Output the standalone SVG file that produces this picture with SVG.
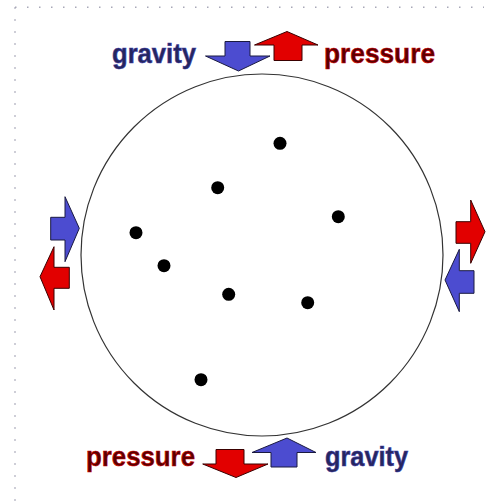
<svg xmlns="http://www.w3.org/2000/svg" width="494" height="501" viewBox="0 0 494 501">
<style>
.blue{fill:#4c4cd0;stroke:#1a1a40;stroke-width:1;stroke-linejoin:miter}
.red{fill:#e20000;stroke:#3a0000;stroke-width:1;stroke-linejoin:miter}
.grav{font-family:"Liberation Sans",Arial,sans-serif;font-weight:bold;font-size:28.5px;fill:#26265e;stroke:#3a3aa8;stroke-width:0.6}
.pres{font-family:"Liberation Sans",Arial,sans-serif;font-weight:bold;font-size:28.5px;fill:#5a0000;stroke:#d00000;stroke-width:0.6}
.dot{fill:#000}
.border{fill:none;stroke:#a8a8b8;stroke-width:1.5;stroke-dasharray:1.5 10.5}
</style>
<rect width="494" height="501" fill="#fff"/>
<path class="border" d="M15,7.3 H484 M15,7.3 V501"/>
<g id="star">
<circle cx="262" cy="255" r="181" fill="none" stroke="#333" stroke-width="1.2"/>
<circle class="dot" cx="280" cy="143.3" r="6.5"/>
<circle class="dot" cx="217.7" cy="187.7" r="6.5"/>
<circle class="dot" cx="338.3" cy="216.7" r="6.5"/>
<circle class="dot" cx="136" cy="232.7" r="6.5"/>
<circle class="dot" cx="164" cy="265.7" r="6.5"/>
<circle class="dot" cx="228.7" cy="294.3" r="6.5"/>
<circle class="dot" cx="307.7" cy="302.7" r="6.5"/>
<circle class="dot" cx="201" cy="379.7" r="6.5"/>
</g>
<g id="top">
<text class="grav" x="112" y="63" textLength="84" lengthAdjust="spacingAndGlyphs">gravity</text>
<polygon class="blue" points="225,41.5 250,41.5 250,56 270,56 238.5,71 205.5,56 225,56"/>
<polygon class="red" points="287,31.5 318,45 302,45 302,60.5 274,60.5 274,45 254.5,45"/>
<text class="pres" x="324" y="63" textLength="111" lengthAdjust="spacingAndGlyphs">pressure</text>
</g>
<g id="bottom">
<text class="pres" x="86" y="466" textLength="109" lengthAdjust="spacingAndGlyphs">pressure</text>
<polygon class="red" points="216,449.5 244,449.5 244,464 268,464 236,477.5 202.7,464 216,464"/>
<polygon class="blue" points="287,438 316,452.5 297,452.5 297,467 271,467 271,452.5 252,452.5"/>
<text class="grav" x="325" y="466" textLength="83" lengthAdjust="spacingAndGlyphs">gravity</text>
</g>
<g id="left">
<polygon class="blue" points="50.7,217.3 65,217.3 65,196.7 79.3,228.3 65,261.7 65,240 50.7,240"/>
<polygon class="red" points="69.3,267.3 54,267.3 54,246.7 40,276.7 54,310 54,288.3 69.3,288.3"/>
</g>
<g id="right">
<polygon class="red" points="456,221.7 470.7,221.7 470.7,200 485,231.7 470.7,263.3 470.7,243.3 456,243.3"/>
<polygon class="blue" points="474,270.7 459.3,270.7 459.3,249.3 445,280 459.3,311.7 459.3,293.3 474,293.3"/>
</g>
</svg>
